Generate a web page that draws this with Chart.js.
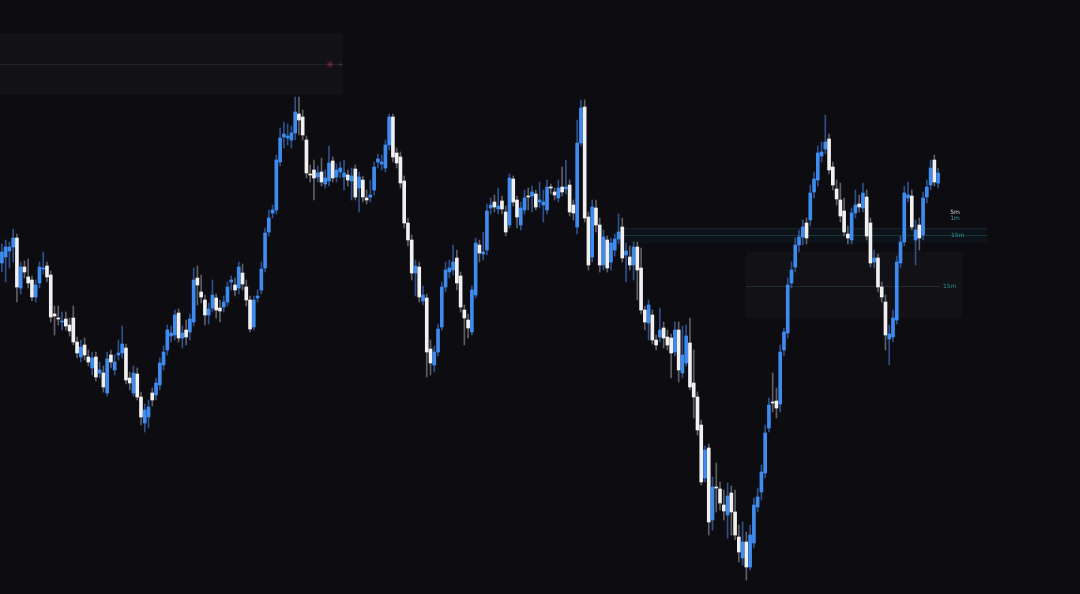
<!DOCTYPE html>
<html><head><meta charset="utf-8">
<script src="https://cdn.jsdelivr.net/npm/chart.js@4.4.1/dist/chart.umd.min.js"></script>
<style>html,body{margin:0;padding:0;background:#0c0c11;overflow:hidden}#wrap{width:1080px;height:594px;position:relative}</style>
</head><body><div id="wrap"><canvas id="c" width="1080" height="594"></canvas></div>
<script>
// OHLC values (price units, top of frame = 600)
const opens = [
337,343,349,353,362,312,333,323,320,303, 317,331,334,325,286,282,278,281,275,282,
258,243,255,243,232,243,227,227,207,245, 230,245,247,252,222,207,226,203,177,183,
207,205,215,235,250,264,265,287,262,270, 268,278,322,308,300,285,292,302,292,293,
298,318,315,312,327,313,300,273,302,310, 332,368,387,390,438,463,462,460,467,486,
483,460,426,430,423,428,416,419,439,423, 428,423,425,419,431,412,420,402,403,410,
438,436,432,455,483,447,443,419,377,360, 327,333,299,302,251,235,248,273,313,328,
330,342,324,290,280,268,305,355,346,350, 392,398,391,399,388,375,421,400,375,390,
404,404,406,398,395,390,413,408,402,413, 411,415,395,373,457,493,383,343,392,375,
335,360,338,350,361,373,345,343,335,353, 332,290,277,285,260,263,272,263,262,248,
270,227,237,257,217,203,175,122,152,80, 113,111,95,85,107,88,63,42,58,33,
57,93,108,127,172,198,199,196,250,267, 317,333,355,363,377,380,408,420,444,451,
461,433,411,400,389,366,360,387,396,392, 403,377,338,342,313,298,261,263,280,337,
358,402,404,360,375,365,403,415,440,417];
const highs = [
356,360,358,371,366,338,339,341,324,320, 338,348,338,329,294,294,288,288,282,294,
263,260,262,250,248,248,238,234,248,250, 245,260,274,256,228,234,232,208,196,200,
212,222,242,254,275,274,290,291,274,280, 286,332,334,325,305,297,320,306,300,304,
318,324,322,338,336,320,304,304,310,338, 372,390,395,445,472,478,476,474,503,503,
490,464,435,440,434,442,430,454,443,436, 438,440,430,432,435,428,424,410,420,438,
446,445,460,486,486,452,448,424,382,365, 340,338,314,306,260,254,276,318,338,340,
355,350,328,295,286,314,362,360,368,396, 402,405,412,404,394,426,424,404,398,410,
412,414,410,418,410,420,416,412,420,433, 440,420,400,480,500,500,388,400,400,382,
370,364,362,366,386,382,357,354,358,358, 352,294,300,290,265,292,278,270,266,278,
278,274,275,282,250,208,180,154,156,123, 137,118,110,117,114,110,75,78,68,75,
102,112,135,175,202,227,212,255,272,322, 338,362,370,380,382,415,428,454,458,485,
466,438,420,417,402,374,392,410,405,417, 410,382,350,346,318,305,275,290,344,364,
414,418,410,380,382,408,420,440,445,432];
const lows = [
328,318,332,338,298,306,322,312,299,298, 312,326,318,278,265,275,270,270,264,255,
242,238,240,234,225,219,222,208,204,232, 225,240,242,216,210,204,200,175,168,172,
194,200,210,230,245,258,260,258,252,255, 260,274,295,297,275,276,288,282,278,288,
294,310,304,306,310,294,268,270,298,306, 328,364,382,386,434,452,455,452,460,465,
460,422,418,400,418,414,412,414,418,418, 422,410,414,400,400,388,398,396,398,405,
432,430,428,450,438,432,412,372,354,320, 304,298,295,223,225,228,244,270,308,322,
325,310,288,255,262,265,302,338,340,345, 386,388,386,386,364,372,394,372,370,386,
390,388,390,392,378,386,406,400,398,404, 406,384,380,366,454,378,330,338,368,328,
330,328,330,344,356,338,318,330,320,300, 286,270,260,256,250,258,252,250,222,244,
218,222,234,210,182,165,115,118,65,70, 88,90,80,62,65,60,38,35,20,30,
52,88,100,122,168,188,182,188,244,262, 312,328,348,355,356,374,402,414,438,446,
426,410,395,378,364,356,356,382,388,388, 360,333,332,308,298,250,235,258,276,332,
354,398,370,335,350,360,397,410,414,412];
const closes = [
348,353,353,362,313,333,328,317,303,315, 333,332,323,283,284,281,279,274,269,258,
247,253,245,238,242,223,230,213,241,238, 238,247,256,220,217,227,203,183,190,193,
200,217,237,248,270,267,285,262,267,263, 281,320,315,303,285,291,305,290,289,298,
313,320,310,333,316,300,271,300,304,331, 367,382,390,440,462,466,464,467,488,480,
465,427,425,422,427,418,422,437,422,430, 432,427,420,424,403,423,403,400,405,433,
441,438,455,483,443,437,417,377,360,327, 334,303,305,248,237,248,271,313,330,332,
338,317,293,282,272,310,357,347,348,389, 395,393,394,391,368,422,398,383,392,402,
403,408,393,400,398,413,412,405,412,408, 413,388,387,457,492,382,335,393,375,335,
363,332,357,361,368,342,349,335,353,330, 290,278,295,260,255,270,262,255,247,270,
230,245,264,213,203,170,118,150,78,113, 112,97,89,104,88,65,48,58,33,65,
95,103,128,167,195,197,192,248,268,315, 330,355,363,373,362,407,421,447,448,458,
430,415,401,384,368,362,387,395,393,407, 364,337,342,313,303,265,266,282,338,358,
407,405,373,370,362,402,413,432,418,427];

// Zone / level annotations (x in candle index, y in price)
const zoneTop   = {x0:-0.5, x1:90.7, yTop:567, yBot:505, mid:536};
const zoneRight = {x0:197.9, x1:255.6, yTop:348, yBot:282, mid:314, midEnd:249.5};
const band15    = {x0:164.4, x1:262, yTop:372, yBot:357, mid:365};
const levelLabels = ['5m','1m','15m','15m'];
const levelPrices = [388,382,365,314];
const levelIdx    = [252.2,252.2,252.4,250.3];
const levelColors = ['#d0d5d8','#3a9e9e','#2c9090','#2c9090'];

const UP = '#3f8cf0', DOWN = '#f0f0f0';
const UPW = 'rgba(60,110,190,0.7)', DOWNW = 'rgba(130,130,135,0.7)';

const idx = opens.map((_, i) => i);
const isUp = i => closes[i] >= opens[i];
const wickData = idx.map(i => ({x: i, y: [lows[i], highs[i]]}));
const bodyData = idx.map(i => ({x: i, y: [opens[i], closes[i]]}));

const overlay = {
  id: 'overlay',
  beforeDatasetsDraw(chart) {
    const {ctx, scales:{x, y}} = chart;
    ctx.save();
    // top-left zone
    let X0 = x.getPixelForValue(zoneTop.x0), X1 = x.getPixelForValue(zoneTop.x1);
    let Y0 = y.getPixelForValue(zoneTop.yTop), Y1 = y.getPixelForValue(zoneTop.yBot);
    ctx.fillStyle = 'rgba(255,255,255,0.025)';
    ctx.fillRect(X0, Y0, X1 - X0, Y1 - Y0);
    let ym = Math.round(y.getPixelForValue(zoneTop.mid)) + 0.5;
    ctx.strokeStyle = 'rgba(120,100,115,0.22)'; ctx.lineWidth = 1;
    ctx.beginPath(); ctx.moveTo(X0, ym); ctx.lineTo(X1, ym); ctx.stroke();
    const glow = (px, py, col, r) => {
      const g = ctx.createRadialGradient(px, py, 0, px, py, r);
      g.addColorStop(0, col); g.addColorStop(1, 'rgba(0,0,0,0)');
      ctx.fillStyle = g; ctx.beginPath(); ctx.arc(px, py, r, 0, Math.PI*2); ctx.fill();
    };
    glow(x.getPixelForValue(87.3), ym, 'rgba(200,70,100,0.55)', 6);
    glow(x.getPixelForValue(90.0), ym, 'rgba(40,150,100,0.4)', 3);
    // teal 15m band
    X0 = x.getPixelForValue(band15.x0); X1 = x.getPixelForValue(band15.x1);
    Y0 = y.getPixelForValue(band15.yTop); Y1 = y.getPixelForValue(band15.yBot);
    ctx.fillStyle = 'rgba(30,90,95,0.10)';
    ctx.fillRect(X0, Y0, X1 - X0, Y1 - Y0);
    ctx.strokeStyle = 'rgba(50,130,135,0.18)';
    ctx.beginPath(); ctx.moveTo(X0, Math.round(Y0)+0.5); ctx.lineTo(X1, Math.round(Y0)+0.5); ctx.stroke();
    ym = Math.round(y.getPixelForValue(band15.mid)) + 0.5;
    ctx.strokeStyle = 'rgba(50,140,145,0.3)';
    ctx.beginPath(); ctx.moveTo(X0, ym); ctx.lineTo(X1, ym); ctx.stroke();
    // right zone
    X0 = x.getPixelForValue(zoneRight.x0); X1 = x.getPixelForValue(zoneRight.x1);
    Y0 = y.getPixelForValue(zoneRight.yTop); Y1 = y.getPixelForValue(zoneRight.yBot);
    ctx.fillStyle = 'rgba(255,255,255,0.022)';
    ctx.fillRect(X0, Y0, X1 - X0, Y1 - Y0);
    ym = Math.round(y.getPixelForValue(zoneRight.mid)) + 0.5;
    ctx.strokeStyle = 'rgba(80,120,130,0.25)';
    ctx.beginPath(); ctx.moveTo(X0, ym); ctx.lineTo(x.getPixelForValue(zoneRight.midEnd), ym); ctx.stroke();
    ctx.restore();
  },
  afterDatasetsDraw(chart) {
    const {ctx, scales:{x, y}} = chart;
    ctx.save();
    ctx.font = '6px "DejaVu Sans"';
    ctx.textBaseline = 'middle'; ctx.textAlign = 'left';
    levelLabels.forEach((t, k) => {
      ctx.fillStyle = levelColors[k];
      ctx.fillText(t, x.getPixelForValue(levelIdx[k]), y.getPixelForValue(levelPrices[k]));
    });
    ctx.restore();
  }
};

new Chart(document.getElementById('c'), {
  type: 'bar',
  data: {
    datasets: [
      {label: 'wick', data: wickData, grouped: false, barThickness: 1, order: 2,
       backgroundColor: idx.map(i => isUp(i) ? UPW : DOWNW), borderWidth: 0},
      {label: 'body', data: bodyData, grouped: false, barThickness: 3, minBarLength: 1, order: 1,
       backgroundColor: idx.map(i => isUp(i) ? UP : DOWN), borderWidth: 0}
    ]
  },
  options: {
    responsive: false, animation: false, devicePixelRatio: 1,
    layout: {padding: 0},
    plugins: {legend: {display: false}, tooltip: {enabled: false}},
    scales: {
      x: {type: 'linear', min: -0.5, max: 1080/3.76 - 0.5, display: false, offset: false, grid: {display: false}},
      y: {type: 'linear', min: 6, max: 600, display: false, grid: {display: false}}
    }
  },
  plugins: [overlay]
});
</script>
</body></html>
